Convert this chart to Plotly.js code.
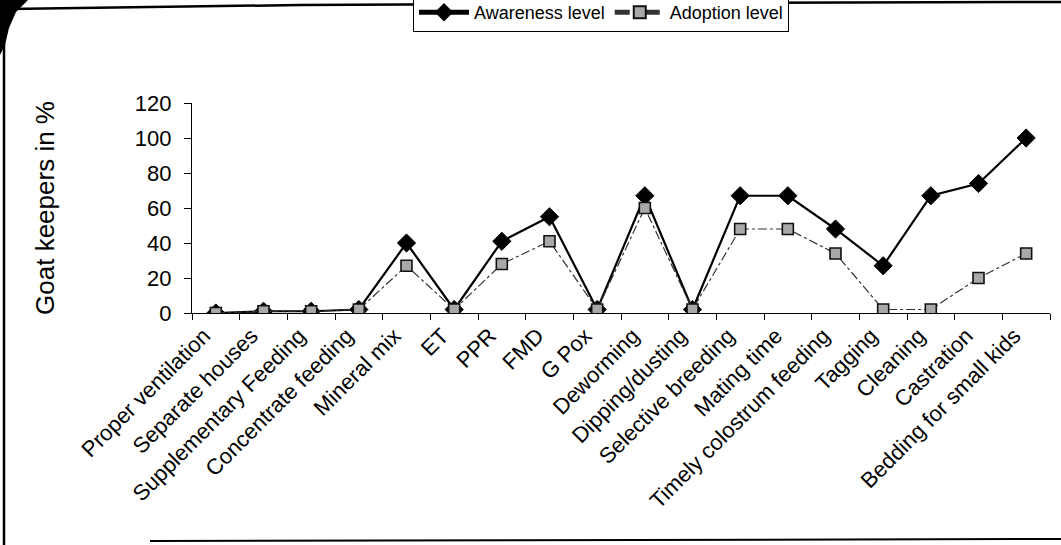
<!DOCTYPE html>
<html>
<head>
<meta charset="utf-8">
<script src="https://cdn.plot.ly/plotly-3.0.1.min.js"></script>
<style>
  html, body { margin: 0; padding: 0; background: #fff; }
  #chart { width: 1061px; height: 545px; }
</style>
</head>
<body>
<div id="chart"></div>
<script>
// Goat management practices: awareness vs adoption (% of goat keepers)
const practices = [
  "Proper ventilation", "Separate houses", "Supplementary Feeding",
  "Concentrate feeding", "Mineral mix", "ET", "PPR", "FMD", "G Pox",
  "Deworming", "Dipping/dusting", "Selective breeding", "Mating time",
  "Timely colostrum feeding", "Tagging", "Cleaning", "Castration",
  "Bedding for small kids"
];
const awareness = [0, 1, 1, 2, 40, 2, 41, 55, 2, 67, 2, 67, 67, 48, 27, 67, 74, 100];
const adoption  = [0, 1, 1, 2, 27, 2, 28, 41, 2, 60, 2, 48, 48, 34, 2, 2, 20, 34];
const yTicks = [0, 20, 40, 60, 80, 100, 120];

// Page geometry (pixels) for the plotting area
const FIG_W = 1061, FIG_H = 545;
const M = { l: 192, r: 11, t: 103, b: 232, autoexpand: false };
const PW = FIG_W - M.l - M.r, PH = FIG_H - M.t - M.b;
// convert page pixels to paper coordinates for the decorative frame
const pxX = x => (x - M.l) / PW;
const pxY = y => (FIG_H - M.b - y) / PH;

const FONT = "Liberation Sans, Arial, sans-serif";

const traces = [
  {
    name: "Awareness level",
    x: practices, y: awareness,
    type: "scatter", mode: "lines+markers",
    line: { color: "#000", width: 2.2 },
    marker: { symbol: "diamond", size: 14, color: "#000", line: { color: "#000", width: 1 } }
  },
  {
    name: "Adoption level",
    x: practices, y: adoption,
    type: "scatter", mode: "lines+markers",
    line: { color: "#333", width: 1.2, dash: "dashdot" },
    marker: { symbol: "square", size: 11, color: "#a8a8a8", line: { color: "#111", width: 1.6 } }
  }
];

// page frame: top rule, left rule, bottom rule and a dark top-left corner
const framePath = (pts) => "M" + pts.map(p => pxX(p[0]) + "," + pxY(p[1])).join(" L");
const shapes = [
  { type: "path", xref: "paper", yref: "paper",
    path: framePath([[4, 0], [4, 545]]),
    line: { color: "#000", width: 2.5 }, layer: "above" },
  { type: "path", xref: "paper", yref: "paper",
    path: framePath([[150, 541], [1061, 539]]),
    line: { color: "#000", width: 2 } },
  { type: "path", xref: "paper", yref: "paper",
    path: framePath([[0, 0], [28, 0], [16, 12], [9, 28], [5, 45], [0, 55]]) + " Z",
    fillcolor: "#000", line: { color: "#000", width: 0 } },
  { type: "path", xref: "paper", yref: "paper",
    path: framePath([[8, 9], [300, 5], [700, 3], [1061, 2]]),
    line: { color: "#000", width: 2.5 }, layer: "above" }
];

const layout = {
  width: FIG_W, height: FIG_H,
  margin: M,
  paper_bgcolor: "#fff", plot_bgcolor: "#fff",
  font: { family: FONT, color: "#000", size: 22 },
  showlegend: true,
  legend: {
    orientation: "h",
    x: pxX(601), xanchor: "center",
    y: pxY(-7), yanchor: "top",
    bordercolor: "#000", borderwidth: 1,
    bgcolor: "#fff",
    font: { family: FONT, size: 18, color: "#000" },
    itemsizing: "constant",
    itemwidth: 50,
    tracegroupgap: 0
  },
  xaxis: {
    type: "category",
    range: [-0.5, practices.length - 0.5],
    showline: true, linecolor: "#000", linewidth: 1.2,
    ticks: "outside", tickson: "boundaries", ticklen: 6, tickcolor: "#000",
    tickangle: -45,
    ticklabelshift: -12,
    tickfont: { family: FONT, size: 22, color: "#000" },
    showgrid: false, zeroline: false, automargin: false
  },
  yaxis: {
    range: [0, 120],
    tickvals: yTicks,
    showline: true, linecolor: "#000", linewidth: 1.2,
    ticks: "outside", ticklen: 7, tickcolor: "#000",
    ticklabelstandoff: 8,
    tickfont: { family: FONT, size: 22, color: "#000" },
    showgrid: false, zeroline: false, automargin: false,
    title: { text: "Goat keepers in %", font: { family: FONT, size: 26, color: "#000" }, standoff: 72 }
  },
  shapes: shapes
};

Plotly.newPlot("chart", traces, layout, { displayModeBar: false, staticPlot: true });
</script>
</body>
</html>
